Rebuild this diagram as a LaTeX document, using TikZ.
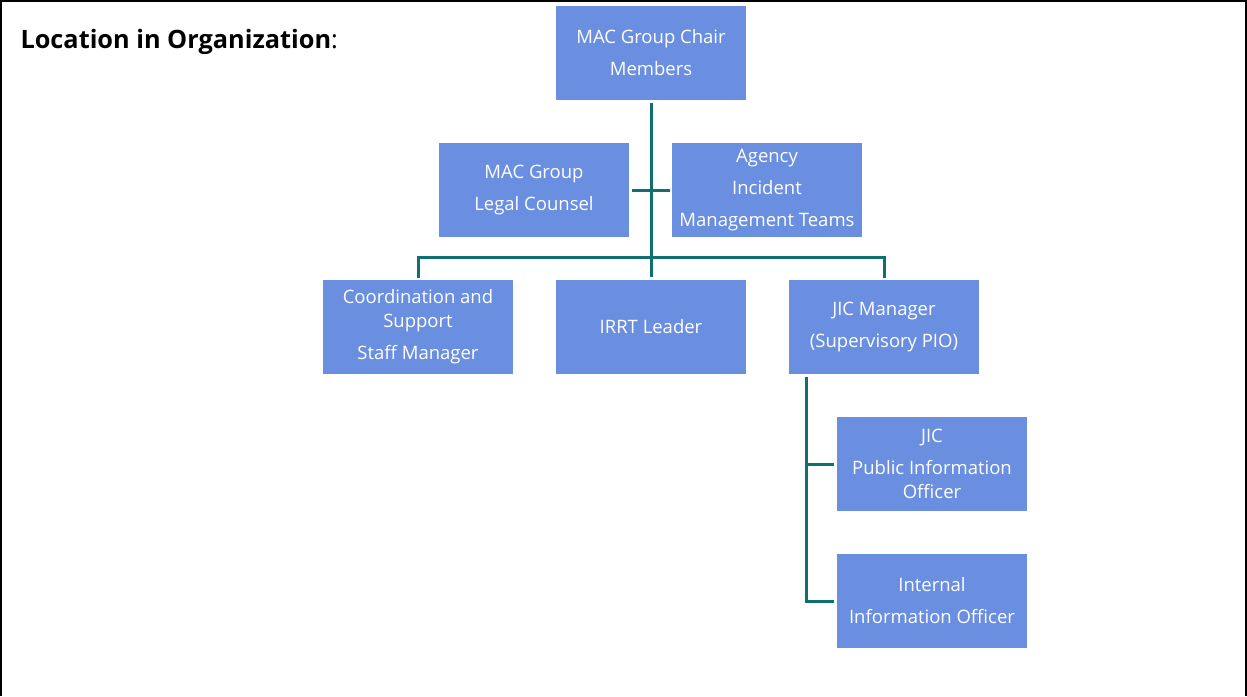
\documentclass[tikz,border=0pt]{standalone}
\usepackage{fontspec}
\setmainfont{Open Sans}
\usetikzlibrary{positioning}
\definecolor{boxblue}{HTML}{6A8EE0}
\definecolor{lineteal}{HTML}{10706F}
\tikzset{
  orgbox/.style={fill=boxblue, text=white, minimum width=190pt, minimum height=94pt,
    inner sep=0pt, align=center, font=\fontsize{18.5}{32}\selectfont},
  conn/.style={draw=lineteal, line width=3pt},
}
\begin{document}
\begin{tikzpicture}[x=1pt,y=-1pt]
\useasboundingbox (0,0) rectangle (1247,696);
% frame
\draw[line width=2pt] (1,696) -- (1,1) -- (1246,1) -- (1246,696);
\node[anchor=base west, font=\fontsize{25.3}{30}\selectfont] (title) at (17,48) {\textbf{Location in Organization}:};

% boxes
\node[orgbox] (chair) at (651,52.5) {MAC Group Chair\\Members};
\node[orgbox] (legal) at (534,190) {MAC Group\\Legal Counsel};
\node[orgbox] (agency) at (767,190) {Agency\\Incident\\Management Teams};
\node[orgbox] (coord) at (418,327) {Coordination and\\[-8pt]Support\\Staff Manager};
\node[orgbox] (irrt) at (651,327) {IRRT Leader};
\node[orgbox] (jicmgr) at (884,327) {JIC Manager\\(Supervisory PIO)};
\node[orgbox] (jicpio) at (932,464) {JIC\\Public Information\\[-8pt]Officer};
\node[orgbox] (internal) at (932,601) {Internal\\Information Officer};

% connectors
\draw[conn, shorten <=3pt, shorten >=3pt] (chair.south) -- (irrt.north);
\draw[conn, shorten <=3pt, shorten >=2pt] (legal.east) -- (agency.west);
\draw[conn, shorten <=2pt, shorten >=2pt] (coord.north) -- ++(0,-22) -| (jicmgr.north);
\coordinate (jtop) at ([xshift=18pt,yshift=-3pt]jicmgr.south west);
\draw[conn] (jtop) |- ([xshift=-3pt]internal.west);
\draw[conn] (jtop |- jicpio.west) -- ([xshift=-3pt]jicpio.west);
\end{tikzpicture}
\end{document}
